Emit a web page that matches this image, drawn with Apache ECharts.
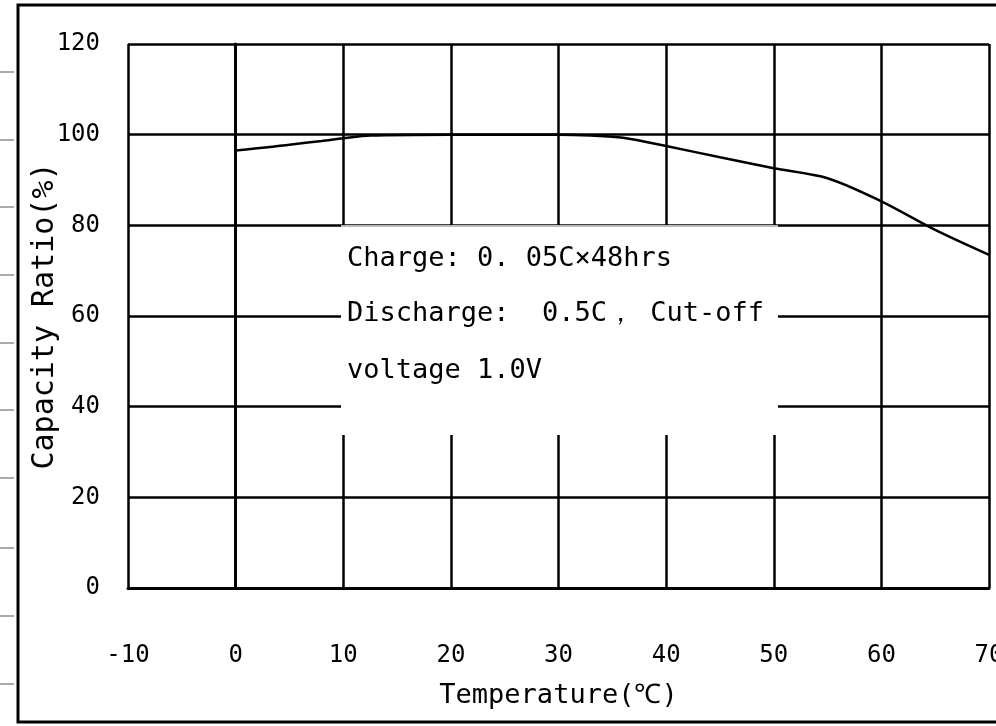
<!DOCTYPE html>
<html>
<head>
<meta charset="utf-8">
<script src="https://cdn.jsdelivr.net/npm/echarts@6/dist/echarts.min.js"></script>
<style>html,body{margin:0;padding:0;background:#fff;}#c{width:996px;height:726px;}</style>
</head>
<body>
<div id="c"></div>
<script>
var temperature = [0, 3, 5, 8, 10, 12.5, 20, 30, 33, 36, 40, 45, 50, 55, 60, 65, 70];
var capacity = [96.5, 97.2, 97.8, 98.6, 99.2, 99.8, 100, 100, 99.8, 99.3, 97.5, 95, 92.6, 90.4, 85.3, 79, 73.5];
var noteLines = ['Charge: 0. 05C×48hrs', 'Discharge:  0.5C， Cut-off', 'voltage 1.0V'];
var xTitle = 'Temperature(℃)';
var yTitle = 'Capacity Ratio(%)';

var FONT = "'DejaVu Sans Mono', monospace";
var chart = echarts.init(document.getElementById('c'));
var pts = temperature.map(function (t, i) { return [t, capacity[i]]; });

var graphics = [
  { type: 'rect', z: 100, shape: { x: 18, y: 5, width: 990, height: 717 }, style: { fill: null, stroke: '#000', lineWidth: 3 } },
  { type: 'rect', z: 100, shape: { x: 341, y: 227, width: 437, height: 208 }, style: { fill: '#fff' } },
  { type: 'line', z: 101, shape: { x1: 341, y1: 226, x2: 778, y2: 226 }, style: { stroke: '#bbb', lineWidth: 2 } }
];
var gy = [72, 140, 207, 275, 343, 410, 478, 548, 616, 684];
gy.forEach(function (y) {
  graphics.push({ type: 'line', z: 100, shape: { x1: 0, y1: y, x2: 14, y2: y }, style: { stroke: '#aaa', lineWidth: 2 } });
});
var ty = [259, 314, 371];
noteLines.forEach(function (s, i) {
  graphics.push({ type: 'text', z: 102, x: 347, y: ty[i], style: { text: s, fill: '#000', font: '27px ' + FONT, textVerticalAlign: 'middle', verticalAlign: 'middle' } });
});

chart.setOption({
  backgroundColor: '#fff',
  animation: false,
  grid: { left: 128, right: 7, top: 44, bottom: 138, containLabel: false, outerBoundsMode: 'none' },
  xAxis: {
    type: 'value', min: -10, max: 70, interval: 10,
    name: xTitle, nameLocation: 'middle', nameGap: 94, nameMoveOverlap: false,
    nameTextStyle: { color: '#000', fontSize: 27, fontFamily: FONT },
    axisLine: { show: true, lineStyle: { color: '#000', width: 3 } },
    axisTick: { show: false },
    axisLabel: { color: '#000', fontSize: 24, fontFamily: FONT, margin: 56 },
    splitLine: { show: true, lineStyle: { color: '#000', width: 2.5 } }
  },
  yAxis: {
    type: 'value', min: 0, max: 120, interval: 20,
    name: yTitle, nameLocation: 'middle', nameGap: 68, nameRotate: 90, nameMoveOverlap: false,
    nameTextStyle: { color: '#000', fontSize: 30, fontFamily: FONT },
    axisLine: { show: true, lineStyle: { color: '#000', width: 3 } },
    axisTick: { show: false },
    axisLabel: { color: '#000', fontSize: 24, fontFamily: FONT, margin: 28 },
    splitLine: { show: true, lineStyle: { color: '#000', width: 2.5 } }
  },
  series: [{
    type: 'line', data: pts, smooth: 0.3, symbol: 'none',
    lineStyle: { color: '#000', width: 2.5 }, z: 5
  }],
  graphic: graphics
});
</script>
</body>
</html>
